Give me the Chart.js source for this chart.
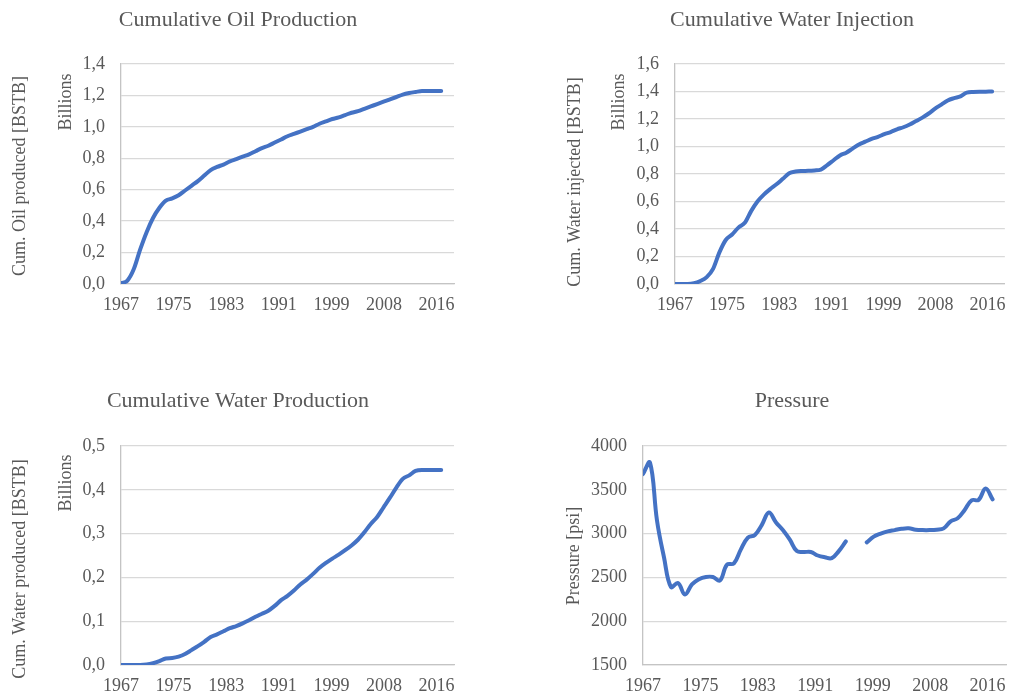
<!DOCTYPE html>
<html>
<head>
<meta charset="utf-8">
<title>Field performance</title>
<script src="https://cdn.jsdelivr.net/npm/chart.js@4.4.1/dist/chart.umd.min.js"></script>
<style>
  html, body { margin: 0; padding: 0; background: #ffffff; }
  body { width: 1016px; height: 699px; position: relative; overflow: hidden; }
  .panel { position: absolute; }
  .panel canvas { display: block; }
</style>
</head>
<body>
<div class="panel" style="left:0px;top:0px"><canvas id="oilChart" width="508" height="334"></canvas></div>
<div class="panel" style="left:508px;top:0px"><canvas id="injChart" width="508" height="334"></canvas></div>
<div class="panel" style="left:0px;top:350px"><canvas id="watChart" width="508" height="349"></canvas></div>
<div class="panel" style="left:508px;top:350px"><canvas id="presChart" width="508" height="349"></canvas></div>

<script>
// Yearly record, 1967-2017
const years = [
  1967, 1968, 1969, 1970, 1971, 1972, 1973, 1974, 1975, 1976,
  1977, 1978, 1979, 1980, 1981, 1982, 1983, 1984, 1985, 1986,
  1987, 1988, 1989, 1990, 1991, 1992, 1993, 1994, 1995, 1996,
  1997, 1998, 1999, 2000, 2001, 2002, 2003, 2004, 2005, 2006,
  2007, 2008, 2009, 2010, 2011, 2012, 2013, 2014, 2015, 2016,
  2017
];

// Date-axis labels, one every 3000 days
const yearTickLabels = ['1967', '1975', '1983', '1991', '1999', '2008', '2016'];

// Cumulative oil produced, billions of STB
const oilProduced = [
  0.005, 0.022, 0.095, 0.220, 0.330, 0.420, 0.485, 0.530, 0.545, 0.565,
  0.595, 0.625, 0.655, 0.690, 0.725, 0.745, 0.760, 0.780, 0.795, 0.810,
  0.825, 0.845, 0.865, 0.880, 0.900, 0.920, 0.940, 0.955, 0.970, 0.985,
  1.000, 1.020, 1.035, 1.050, 1.060, 1.075, 1.090, 1.100, 1.115, 1.130,
  1.145, 1.160, 1.175, 1.190, 1.205, 1.215, 1.222, 1.228, 1.228, 1.228,
  1.228
];

// Cumulative water injected, billions of STB
const waterInjected = [
  0.000, 0.000, 0.000, 0.005, 0.022, 0.050, 0.110, 0.230, 0.320, 0.360,
  0.410, 0.445, 0.530, 0.600, 0.650, 0.690, 0.725, 0.765, 0.805, 0.818,
  0.822, 0.823, 0.826, 0.832, 0.865, 0.900, 0.935, 0.955, 0.985, 1.015,
  1.035, 1.055, 1.070, 1.090, 1.105, 1.125, 1.140, 1.160, 1.185, 1.210,
  1.240, 1.275, 1.305, 1.335, 1.352, 1.365, 1.392, 1.396, 1.398, 1.399,
  1.400
];

// Cumulative water produced, billions of STB
const waterProduced = [
  0.000, 0.000, 0.000, 0.000, 0.001, 0.004, 0.009, 0.015, 0.016, 0.019,
  0.025, 0.034, 0.043, 0.053, 0.064, 0.070, 0.077, 0.084, 0.089, 0.095,
  0.102, 0.110, 0.117, 0.124, 0.135, 0.148, 0.158, 0.170, 0.184, 0.195,
  0.208, 0.222, 0.233, 0.243, 0.252, 0.262, 0.273, 0.286, 0.303, 0.322,
  0.338, 0.360, 0.382, 0.405, 0.425, 0.433, 0.443, 0.445, 0.445, 0.445,
  0.445
];

// Reservoir pressure, psi (no readings in 1997-1998)
const pressure = [
  3680, 3810, 3150, 2730, 2390, 2435, 2305, 2420, 2480, 2505,
  2505, 2465, 2645, 2660, 2820, 2955, 2985, 3100, 3240, 3130,
  3040, 2930, 2800, 2790, 2790, 2750, 2730, 2720, 2800, 2910,
  null, null, 2900, 2965, 3000, 3025, 3040, 3055, 3060, 3045,
  3040, 3040, 3045, 3060, 3140, 3175, 3270, 3380, 3385, 3515,
  3390
];

const TEXT_COLOR = '#595959';
const GRID_COLOR = '#d9d9d9';
const AXIS_COLOR = '#c4c4c4';
const LINE_COLOR = '#4472c4';
const FONT_FAMILY = '"Liberation Serif", "Times New Roman", serif';
const MAJOR_UNIT_YEARS = 3000 / 365.25;

// Chart title and rotated side labels drawn on the canvas
const panelText = {
  id: 'panelText',
  afterDraw(chart, args, opts) {
    const ctx = chart.ctx;
    ctx.save();
    ctx.fillStyle = TEXT_COLOR;
    ctx.textAlign = 'center';
    ctx.textBaseline = 'alphabetic';
    if (opts.title) {
      ctx.font = '22px ' + FONT_FAMILY;
      ctx.fillText(opts.title.text, opts.title.x, opts.title.y);
    }
    (opts.side || []).forEach(s => {
      ctx.save();
      ctx.translate(s.x, s.y);
      ctx.rotate(-Math.PI / 2);
      ctx.font = '18px ' + FONT_FAMILY;
      ctx.fillText(s.text, 0, 0);
      ctx.restore();
    });
    ctx.restore();
  }
};

function commaFormat(v) {
  return Number(v).toFixed(1).replace('.', ',');
}

function makeChart(canvasId, cfg) {
  const points = years.map((yr, i) => ({ x: yr, y: cfg.values[i] }));
  return new Chart(document.getElementById(canvasId), {
    type: 'line',
    data: {
      datasets: [{
        data: points,
        borderColor: LINE_COLOR,
        backgroundColor: LINE_COLOR,
        borderWidth: 4,
        borderCapStyle: 'round',
        borderJoinStyle: 'round',
        pointRadius: 0,
        pointHoverRadius: 0,
        tension: cfg.tension,
        cubicInterpolationMode: cfg.monotone ? 'monotone' : 'default',
        spanGaps: false,
        fill: false
      }]
    },
    options: {
      responsive: false,
      devicePixelRatio: 1,
      animation: false,
      events: [],
      layout: { padding: { left: 0, top: cfg.padTop, right: cfg.padRight, bottom: 0 } },
      plugins: {
        legend: { display: false },
        tooltip: { enabled: false },
        title: { display: false },
        panelText: { title: cfg.title, side: cfg.side }
      },
      scales: {
        x: {
          type: 'linear',
          min: 1967,
          max: 2019,
          afterBuildTicks: scale => {
            scale.ticks = yearTickLabels.map((_, k) => ({ value: 1967 + k * MAJOR_UNIT_YEARS }));
          },
          afterFit: scale => { scale.height = cfg.xHeight; },
          grid: { display: false, drawTicks: false },
          border: { display: true, color: AXIS_COLOR, width: 1.3 },
          ticks: {
            autoSkip: false,
            maxRotation: 0,
            minRotation: 0,
            padding: 10,
            color: TEXT_COLOR,
            font: { family: FONT_FAMILY, size: 18 },
            callback: (value, index) => yearTickLabels[index]
          }
        },
        y: {
          type: 'linear',
          min: cfg.yMin,
          max: cfg.yMax,
          afterFit: scale => { scale.width = cfg.yWidth; },
          grid: { display: true, drawTicks: false, color: GRID_COLOR, lineWidth: 1.3 },
          border: { display: true, color: AXIS_COLOR, width: 1.3 },
          ticks: {
            stepSize: cfg.yStep,
            padding: 16,
            color: TEXT_COLOR,
            font: { family: FONT_FAMILY, size: 18 },
            callback: cfg.yFormat
          }
        }
      }
    },
    plugins: [panelText]
  });
}

makeChart('oilChart', {
  values: oilProduced, monotone: true, tension: 0.4,
  yMin: 0, yMax: 1.4, yStep: 0.2, yFormat: commaFormat,
  yWidth: 121, padTop: 64, padRight: 54, xHeight: 50,
  title: { text: 'Cumulative Oil Production', x: 238, y: 26 },
  side: [
    { text: 'Cum. Oil produced [BSTB]', x: 25, y: 176 },
    { text: 'Billions', x: 71, y: 102 }
  ]
});

makeChart('injChart', {
  values: waterInjected, monotone: true, tension: 0.4,
  yMin: 0, yMax: 1.6, yStep: 0.2, yFormat: commaFormat,
  yWidth: 167, padTop: 64, padRight: 8, xHeight: 50,
  title: { text: 'Cumulative Water Injection', x: 284, y: 26 },
  side: [
    { text: 'Cum. Water injected [BSTB]', x: 72, y: 182 },
    { text: 'Billions', x: 116, y: 102 }
  ]
});

makeChart('watChart', {
  values: waterProduced, monotone: true, tension: 0.4,
  yMin: 0, yMax: 0.5, yStep: 0.1, yFormat: commaFormat,
  yWidth: 121, padTop: 96, padRight: 54, xHeight: 34,
  title: { text: 'Cumulative Water Production', x: 238, y: 57 },
  side: [
    { text: 'Cum. Water produced [BSTB]', x: 25, y: 219 },
    { text: 'Billions', x: 71, y: 133 }
  ]
});

makeChart('presChart', {
  values: pressure, monotone: false, tension: 0.4,
  yMin: 1500, yMax: 4000, yStep: 500, yFormat: v => String(v),
  yWidth: 135, padTop: 96, padRight: 8, xHeight: 34,
  title: { text: 'Pressure', x: 284, y: 57 },
  side: [
    { text: 'Pressure [psi]', x: 71, y: 206 }
  ]
});
</script>
</body>
</html>
